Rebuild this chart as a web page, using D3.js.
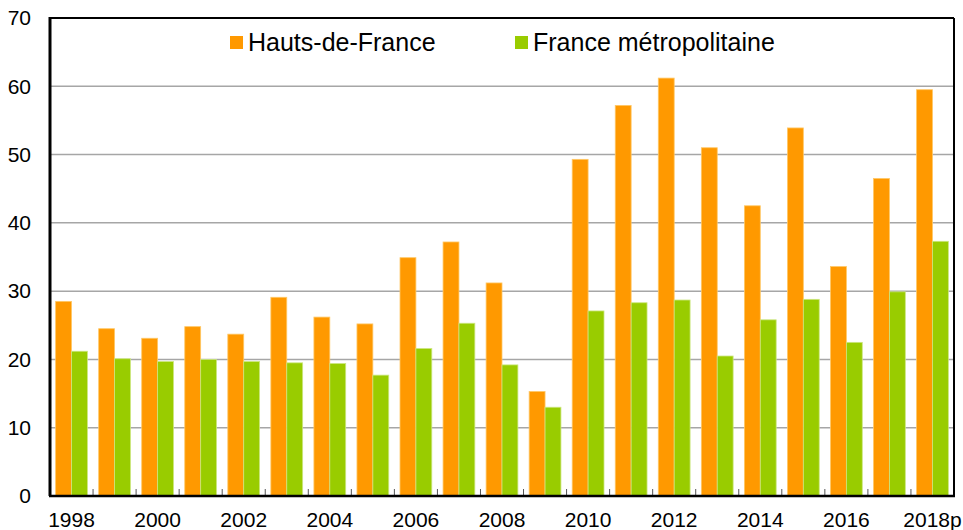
<!DOCTYPE html>
<meta charset="utf-8">
<style>
body { margin: 0; background: #fff; }
text { font-family: "Liberation Sans", Arial, sans-serif; fill: #000; }
.grid line { stroke: #a6a6a6; stroke-width: 1.5px; }
</style>
<svg width="963" height="530"></svg>
<script src="https://cdn.jsdelivr.net/npm/d3@7"></script>
<script>

var years = ["1998", "1999", "2000", "2001", "2002", "2003", "2004", "2005", "2006", "2007",
             "2008", "2009", "2010", "2011", "2012", "2013", "2014", "2015", "2016", "2017", "2018p"];
var hautsDeFrance = [28.5, 24.5, 23.1, 24.8, 23.7, 29.1, 26.2, 25.2, 34.9, 37.2,
                     31.2, 15.3, 49.3, 57.2, 61.2, 51.0, 42.5, 53.9, 33.6, 46.5, 59.5];
var franceMetro = [21.2, 20.1, 19.7, 20.0, 19.7, 19.5, 19.4, 17.7, 21.6, 25.3,
                   19.2, 13.0, 27.1, 28.3, 28.7, 20.5, 25.8, 28.8, 22.5, 29.9, 37.3];
var seriesNames = ["Hauts-de-France", "France métropolitaine"];
var colours = ["#ff9900", "#99cc00"];
var edgeColours = ["#ffc866", "#cce680"];
var yTicks = [0, 10, 20, 30, 40, 50, 60, 70];

var svg = d3.select("svg"),
    plotLeft = 50, plotRight = 954, plotTop = 18, plotBottom = 496;

var x = d3.scaleBand().domain(years).range([plotLeft, plotRight]).padding(0);
var x1 = d3.scaleBand().domain([0, 1]).range([0, x.bandwidth()])
           .paddingInner(0).paddingOuter(0.354);
var y = d3.scaleLinear().domain([0, 70]).range([plotBottom, plotTop]);

// gridlines
svg.append("g").attr("class", "grid")
  .selectAll("line")
  .data(yTicks.filter(function(d) { return d > 0 && d < 70; }))
  .enter().append("line")
    .attr("x1", plotLeft).attr("x2", plotRight)
    .attr("y1", function(d) { return y(d); })
    .attr("y2", function(d) { return y(d); });

// bars
var rows = years.map(function(yr, i) { return { year: yr, v: [hautsDeFrance[i], franceMetro[i]] }; });
var groups = svg.append("g").selectAll("g")
  .data(rows).enter().append("g")
    .attr("transform", function(d) { return "translate(" + x(d.year) + ",0)"; });
groups.selectAll("rect")
  .data(function(d) { return d.v.map(function(v, k) { return { k: k, v: v }; }); })
  .enter().append("rect")
    .attr("x", function(d) { return x1(d.k); })
    .attr("width", x1.bandwidth())
    .attr("y", function(d) { return y(d.v); })
    .attr("height", function(d) { return plotBottom - y(d.v); })
    .attr("fill", function(d) { return colours[d.k]; })
    .attr("stroke", function(d) { return edgeColours[d.k]; })
    .attr("stroke-width", 0.8);

// frame
svg.append("line").attr("x1", plotLeft).attr("x2", plotRight).attr("y1", plotTop).attr("y2", plotTop)
   .style("stroke", "#000").style("stroke-width", "2");
svg.append("line").attr("x1", plotRight).attr("x2", plotRight).attr("y1", plotTop).attr("y2", plotBottom)
   .style("stroke", "#000").style("stroke-width", "2");

// x axis
var xAxis = d3.axisBottom(x).tickSize(0).tickPadding(0)
  .tickFormat(function(d, i) { return i % 2 === 0 ? d : ""; });
var gx = svg.append("g").attr("transform", "translate(0," + plotBottom + ")").call(xAxis);
gx.select(".domain").remove();
gx.selectAll("text").attr("y", 31).attr("dy", null).style("font-size", "21px");
// inner tick marks at band boundaries
gx.selectAll(".bt").data(years.slice(1)).enter().append("line")
  .attr("x1", function(d) { return x(d); }).attr("x2", function(d) { return x(d); })
  .attr("y1", 0).attr("y2", -7)
  .style("stroke", "#555").style("stroke-width", "1");
gx.append("line").attr("x1", plotLeft - 1).attr("x2", plotRight + 1).attr("y1", 0).attr("y2", 0)
  .style("stroke", "#000").style("stroke-width", "2.5");

// y axis
var yAxis = d3.axisLeft(y).tickValues(yTicks).tickSize(0).tickPadding(19);
var gy = svg.append("g").attr("transform", "translate(" + plotLeft + ",0)").call(yAxis);
gy.select(".domain").remove();
gy.selectAll("text").style("font-size", "21px");
svg.append("line").attr("x1", plotLeft).attr("x2", plotLeft).attr("y1", plotTop - 1).attr("y2", plotBottom)
   .style("stroke", "#000").style("stroke-width", "3");

// legend
var legendX = [230, 515];
var legend = svg.append("g").selectAll("g")
  .data(seriesNames).enter().append("g")
    .attr("transform", function(d, i) { return "translate(" + legendX[i] + ",36)"; });
legend.append("rect").attr("width", 13).attr("height", 13)
  .attr("fill", function(d, i) { return colours[i]; });
legend.append("text").attr("x", 18).attr("y", 15)
  .style("font-size", "25px").text(function(d) { return d; });

</script>
